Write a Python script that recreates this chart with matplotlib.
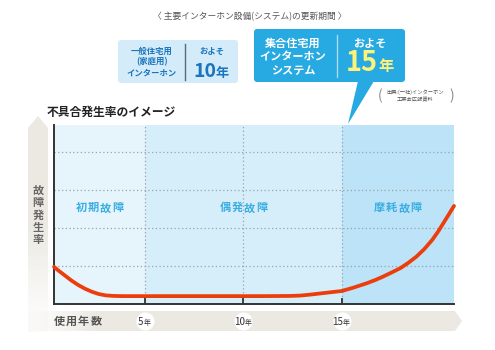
"""インターホン更新期間と不具合発生率のイメージ図"""

import matplotlib
matplotlib.use("Agg")
import matplotlib.pyplot as plt
import matplotlib.transforms as mtransforms
import numpy as np
from matplotlib.patches import FancyBboxPatch, Polygon

plt.rcParams["font.family"] = ["Noto Sans CJK JP", "DejaVu Sans"]

# ---- data ----
years = [0.37, 0.6, 0.9, 1.25, 1.6, 1.95, 2.3, 2.65, 3.0, 3.4, 3.9, 5.0, 8.0,
         11.0, 12.4, 12.9, 13.4, 13.9, 14.4, 15.0, 15.6, 16.3, 16.7, 17.1,
         17.5, 18.0, 18.4, 18.8, 19.2, 19.6, 19.9, 20.2, 20.45, 20.71]
rate = [0.97, 0.87, 0.75, 0.61, 0.49, 0.39, 0.31, 0.25, 0.215, 0.2, 0.195, 0.195,
        0.195, 0.195, 0.2, 0.21, 0.235, 0.265, 0.295, 0.33, 0.42, 0.54, 0.62,
        0.71, 0.81, 0.94, 1.08, 1.24, 1.44, 1.68, 1.9, 2.15, 2.36, 2.58]
phase_labels = ["初期故障", "偶発故障", "摩耗故障"]
phase_bounds = [0.37, 5, 15, 20.71]
phase_colors = ["#e6f4fc", "#d6eefa", "#bce3f7"]
year_ticks = [5, 10, 15]
rate_grid = [1, 2, 3, 4]

BAND = "#ebe9e2"
BLUE = "#27aae1"
DARK_BLUE = "#1b75bc"


def spaced(axis, s, x, y, step, **kw):
    # 1文字ずつ並べて字間を空ける
    n = len(s)
    for i, ch in enumerate(s):
        axis.annotate(ch, (x, y), xytext=((i - (n - 1) / 2) * step, 0),
                      textcoords="offset points", ha="center", va="center", **kw)


fig = plt.figure(figsize=(4.95, 3.5), dpi=100)

# 背景装飾用（ピクセル座標）
bg = fig.add_axes([0, 0, 1, 1])
bg.axis("off")

rgb = np.array(matplotlib.colors.to_rgb(BAND))

# 縦軸の矢印（下にいくほど薄く）
v = np.ones((100, 1, 4))
v[:, 0, :3] = rgb
yy = np.linspace(116, 332, 100)
v[:, 0, 3] = np.clip((332 - yy) / 110, 0.15, 1)
varrow = Polygon([(28, 332), (28, 128), (38, 116), (48, 128), (48, 332)],
                 closed=True, facecolor="none", edgecolor="none")
bg.add_patch(varrow)
im = bg.imshow(v, extent=(28, 48, 332, 116), aspect="auto", origin="upper", zorder=1)
im.set_clip_path(varrow)

# 横軸の帯（左ほど薄く）
h = np.ones((1, 200, 4))
h[0, :, :3] = rgb
xx = np.linspace(28, 462, 200)
h[0, :, 3] = np.clip((xx - 28) / 70, 0.15, 1)
harrow = Polygon([(28, 311), (455, 311), (462, 321), (455, 331), (28, 331)],
                 closed=True, facecolor="none", edgecolor="none")
bg.add_patch(harrow)
im2 = bg.imshow(h, extent=(28, 462, 331, 311), aspect="auto", origin="upper", zorder=1)
im2.set_clip_path(harrow)

# 見出し
bg.text(250, 17, "〈 主要インターホン設備(システム)の更新期間 〉", ha="center",
        va="center", fontsize=6.3, color="#555555")

# ボックス1
bg.add_patch(FancyBboxPatch((118, 40), 120, 43, boxstyle="round,pad=0,rounding_size=3",
                            facecolor="#d4ebf9", edgecolor="none"))
bg.plot([185, 185], [44, 80], color="#5a6a7a", lw=1)
for i, line in enumerate(["一般住宅用", "(家庭用)", "インターホン"]):
    bg.text(152, 51 + i * 11, line, ha="center", va="center", fontsize=6,
            fontweight="bold", color=DARK_BLUE)
bg.text(212, 51, "およそ", ha="center", va="center", fontsize=6,
        fontweight="bold", color=DARK_BLUE)
bg.text(216, 77, "10", ha="right", va="baseline", fontsize=14,
        fontweight="bold", color=DARK_BLUE)
bg.text(216, 77, "年", ha="left", va="baseline", fontsize=9.5,
        fontweight="bold", color=DARK_BLUE)

# ボックス2（吹き出し）
bg.add_patch(FancyBboxPatch((254, 29), 151, 53, boxstyle="round,pad=0,rounding_size=3",
                            facecolor=BLUE, edgecolor="none"))
bg.add_patch(Polygon([(358, 81), (374, 81), (348, 124)], closed=True,
                     facecolor=BLUE, edgecolor="none"))
bg.plot([337, 337], [35, 77], color="#a8dcf3", lw=1)
for i, line in enumerate(["集合住宅用", "インターホン", "システム"]):
    bg.text(293, 43 + i * 14, line, ha="center", va="center", fontsize=8,
            fontweight="bold", color="white")
bg.text(370, 43, "およそ", ha="center", va="center", fontsize=8,
        fontweight="bold", color="white")
bg.text(378, 71, "15", ha="right", va="baseline", fontsize=19.5,
        fontweight="bold", color="#fff27a")
bg.text(378, 71, "年", ha="left", va="baseline", fontsize=11,
        fontweight="bold", color="#fff27a")

# 出典
bg.text(380, 96, "(", ha="center", va="center", fontsize=10, color="#888888")
bg.text(452, 96, ")", ha="center", va="center", fontsize=10, color="#888888")
bg.text(415, 92, "出典:(一社)インターホン", ha="center", va="center",
        fontsize=3.8, color="#555555")
bg.text(415, 100, "工業会広報資料", ha="center", va="center",
        fontsize=3.8, color="#555555")

# タイトル・軸名
bg.text(47, 112, "不具合発生率のイメージ", ha="left", va="center", fontsize=8.5,
        fontweight="bold", color="#222222")
for i, ch in enumerate("故障発生率"):
    bg.text(38, 190 + i * 12.5, ch, ha="center", va="center", fontsize=8,
            fontweight="bold", color="#666666")
for i, ch in enumerate("使用年数"):
    bg.text(59 + i * 12.3, 321, ch, ha="center", va="center", fontsize=8,
            fontweight="bold", color="#555555")

bg.set_xlim(0, 495)
bg.set_ylim(350, 0)

# ---- グラフ本体 ----
ax = fig.add_axes([54 / 495, (350 - 303.5) / 350, 400 / 495, 178.5 / 350])
ax.patch.set_alpha(0)
for i in range(len(phase_labels)):
    ax.axvspan(phase_bounds[i], phase_bounds[i + 1], color=phase_colors[i],
               lw=0, zorder=0)
    spaced(ax, phase_labels[i], (phase_bounds[i] + phase_bounds[i + 1]) / 2, 2.53,
           8.7, fontsize=8, fontweight="bold", color="#3aaee3")

ax.plot(years, rate, color="#ec3d0c", lw=2.7, solid_capstyle="round",
        solid_joinstyle="round", zorder=3, clip_on=False)

ax.set_xlim(phase_bounds[0], phase_bounds[-1])
ax.set_ylim(0, 4.72)
ax.set_xticks(year_ticks)
ax.set_yticks(rate_grid)
ax.set_xticklabels([])
ax.set_yticklabels([])
ax.grid(color="#99a4aa", linestyle=(0, (1, 2)), linewidth=0.9)
ax.tick_params(axis="y", length=0)
ax.tick_params(axis="x", direction="in", length=4, width=1.3, color="#333333")
ax.spines["top"].set_visible(False)
ax.spines["right"].set_visible(False)
for side in ["left", "bottom"]:
    ax.spines[side].set_color("#333333")
    ax.spines[side].set_linewidth(1.4)

# 年数ラベル（白丸）
trans = mtransforms.blended_transform_factory(ax.transData, ax.transAxes)
for yr in year_ticks:
    ax.plot(yr, -0.098, "o", ms=13, color="white", mec="none", transform=trans,
            clip_on=False, zorder=4)
    dx = -1.2 if yr < 10 else 1.0
    ax.annotate(str(yr), (yr, -0.098), xycoords=trans, xytext=(dx, -2.6),
                textcoords="offset points", ha="right", va="baseline",
                fontsize=7, color="#333333", zorder=5, annotation_clip=False)
    ax.annotate("年", (yr, -0.098), xycoords=trans, xytext=(dx, -2.6),
                textcoords="offset points", ha="left", va="baseline",
                fontsize=5, color="#333333", zorder=5, annotation_clip=False)

fig.savefig("out.png", dpi=100)
